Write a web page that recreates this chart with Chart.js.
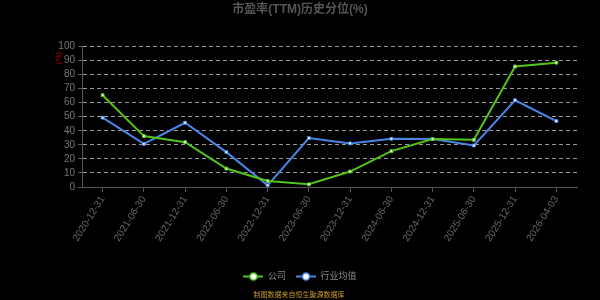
<!DOCTYPE html>
<html>
<head>
<meta charset="utf-8">
<script src="https://cdn.jsdelivr.net/npm/chart.js@4"></script>
<style>
  html, body { margin: 0; padding: 0; background: #000; }
  #wrap { width: 600px; height: 300px; }
</style>
</head>
<body>
<div id="wrap"><canvas id="chart"></canvas></div>
<script>
// values
const dates = ['2020-12-31','2021-06-30','2021-12-31','2022-06-30','2022-12-31','2023-06-30',
               '2023-12-31','2024-06-30','2024-12-31','2025-06-30','2025-12-31','2026-04-03'];
const company = [65.3, 36.2, 31.9, 13.1, 4.3, 1.9, 11.0, 25.5, 34.1, 33.6, 85.7, 88.4];
const industry = [49.3, 30.7, 45.7, 24.8, 1.2, 34.8, 31.0, 34.3, 34.1, 29.5, 61.7, 46.9];
const yTicks = { min: 0, max: 100, step: 10 };

const GREEN = '#52c41a';
const BLUE = '#4a86e6';
const FONT = '"Liberation Sans", Arial, "Noto Sans CJK SC", sans-serif';

// legend marker: short line with a hollow circle
function legendIcon(color){
  const c = document.createElement('canvas');
  c.width = 20; c.height = 10;
  const g = c.getContext('2d');
  g.strokeStyle = color; g.lineWidth = 2;
  g.beginPath(); g.moveTo(0, 5); g.lineTo(20, 5); g.stroke();
  g.fillStyle = '#fff'; g.lineWidth = 1.5;
  g.beginPath(); g.arc(10, 5, 3.6, 0, Math.PI * 2); g.fill(); g.stroke();
  return c;
}

const extras = {
  id: 'extras',
  beforeDraw(chart){
    const ctx = chart.ctx;
    ctx.save();
    ctx.fillStyle = '#000';
    ctx.fillRect(0, 0, chart.width, chart.height);
    ctx.restore();
  },
  afterDraw(chart){
    const ctx = chart.ctx;
    ctx.save();
    // unit label on the y axis
    ctx.translate(59, 58);
    ctx.rotate(-Math.PI / 2);
    ctx.fillStyle = '#c00000';
    ctx.font = '8px ' + FONT;
    ctx.textAlign = 'center'; ctx.textBaseline = 'middle';
    ctx.fillText('(%)', 0, 0);
    ctx.restore();
    // source note
    ctx.save();
    ctx.fillStyle = '#c89a2c';
    ctx.font = '7px ' + FONT;
    ctx.textAlign = 'center'; ctx.textBaseline = 'middle';
    ctx.fillText('制图数据来自恒生聚源数据库', 299, 295);
    ctx.restore();
  }
};

const ds = (label, data, color) => ({
  label, data,
  borderColor: color, borderWidth: 2, tension: 0,
  pointStyle: 'rect', pointRadius: 2, pointBorderWidth: 1,
  pointBackgroundColor: '#fff', pointBorderColor: color,
});

new Chart(document.getElementById('chart'), {
  type: 'line',
  data: { labels: dates, datasets: [ds('公司', company, GREEN), ds('行业均值', industry, BLUE)] },
  options: {
    responsive: true, maintainAspectRatio: false, animation: false,
    layout: { padding: { left: 0, right: 0, top: 0, bottom: 9 } },
    scales: {
      x: {
        offset: true,
        grid: { drawOnChartArea: false, color: '#555', tickLength: 5 },
        border: { color: '#555' },
        ticks: { color: '#666', font: { size: 10, family: FONT }, minRotation: 58, maxRotation: 58, autoSkip: false, padding: 2 },
        afterFit: s => { s.height = 75; }
      },
      y: {
        min: yTicks.min, max: yTicks.max,
        grid: { color: '#999', tickLength: 4, tickColor: '#555', tickBorderDash: [] },
        border: { color: '#555', dash: [4, 3] },
        ticks: { stepSize: yTicks.step, autoSkip: false, color: '#777', font: { size: 10, family: FONT }, padding: 3 },
        afterFit: s => { s.width = 82; }
      },
      // empty right margin so title and legend stay centred on the canvas
      yPad: {
        position: 'right', min: 0, max: 1,
        grid: { display: false }, border: { display: false }, ticks: { display: false },
        afterFit: s => { s.width = 23; }
      }
    },
    plugins: {
      title: {
        display: true, text: '市盈率(TTM)历史分位(%)', color: '#555',
        font: { size: 12, weight: 'bold', family: FONT },
        padding: { top: 2, bottom: 30 }
      },
      legend: {
        position: 'bottom',
        labels: {
          usePointStyle: true, pointStyleWidth: 20, color: '#888',
          font: { size: 9, family: FONT }, padding: 10,
          generateLabels: chart => chart.data.datasets.map((d, i) => ({
            text: d.label, fontColor: '#888', datasetIndex: i,
            pointStyle: legendIcon(d.borderColor), lineWidth: 0, strokeStyle: 'transparent'
          }))
        }
      },
      tooltip: { enabled: false }
    }
  },
  plugins: [extras]
});
</script>
</body>
</html>
